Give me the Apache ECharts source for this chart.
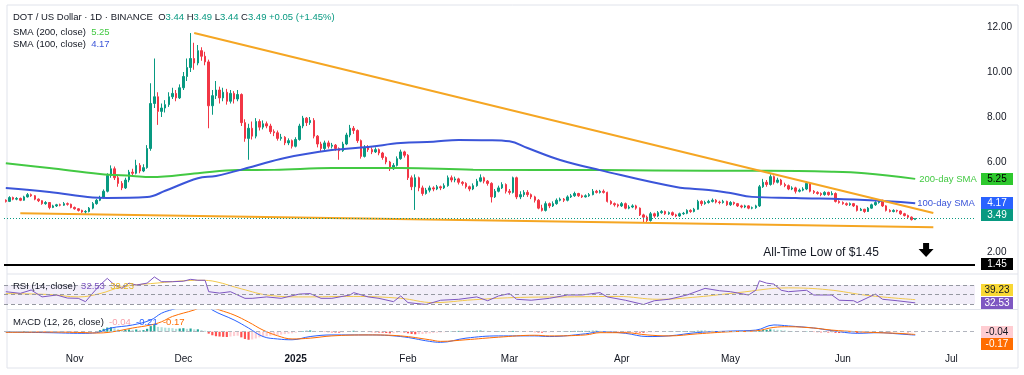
<!DOCTYPE html>
<html>
<head>
<meta charset="utf-8">
<title>DOT / US Dollar</title>
<script src="https://cdn.jsdelivr.net/npm/echarts@6/dist/echarts.min.js"></script>
<style>
  html, body { margin: 0; padding: 0; background: #fff; }
  #chart { width: 1024px; height: 375px; }
</style>
</head>
<body>
<div id="chart"></div>
<script>
// DOT / USD daily, 13 Oct 2024 .. 21 Jun 2025
const firstDay = '2024-10-13';
const dayCount = 268;          // axis runs on to 7 Jul 2025
const firstOpen = 4.30;        // close of 12 Oct, open of the first candle

const closes = [
  4.25, 4.42, 4.35, 4.38, 4.30, 4.45, 4.55,
  4.50, 4.35, 4.28, 4.15, 4.20, 3.98, 4.05, 4.10, 4.08, 4.15, 4.12, 3.98,
  3.92, 3.85, 3.78, 3.80, 3.95, 4.15, 4.30, 4.42, 4.70, 5.40,
  5.70, 5.30, 5.05, 4.85, 5.20, 5.55, 5.50, 5.85, 5.60, 5.75,
  6.60, 8.60, 8.90, 8.25, 8.40, 8.55, 8.90, 9.05, 8.85, 9.30,
  9.80, 10.20, 10.60, 10.40, 10.95, 10.70, 10.45, 8.50, 8.95, 9.20,
  8.85, 9.10, 8.70, 9.05, 8.80, 9.00, 7.75, 7.05, 7.50, 7.15,
  7.80, 7.55, 7.70, 7.60, 7.35, 7.30, 7.05, 7.10, 6.85, 6.95, 6.70,
  7.00, 7.60, 7.95, 7.75, 7.85, 7.15, 6.80, 6.60, 6.85, 6.70,
  6.75, 6.60, 6.50, 6.80, 7.20, 7.50, 7.40, 6.95, 6.25, 6.65,
  6.55, 6.45, 6.55, 6.40, 6.20, 6.00, 5.70, 5.85, 6.15, 6.45, 6.30,
  5.30, 4.90, 5.30, 4.85, 4.60, 4.75, 4.85, 4.80, 4.90, 4.85,
  4.95, 5.30, 5.20, 5.25, 5.10, 5.05, 4.90, 4.80, 4.95, 5.15,
  5.30, 5.15, 5.05, 4.45, 4.70, 4.85, 5.00, 4.70,
  4.65, 5.30, 4.45, 4.55, 4.65, 4.55, 4.45, 4.30, 3.95, 3.85,
  4.15, 4.05, 4.15, 4.30, 4.35, 4.30, 4.45, 4.50, 4.60, 4.50,
  4.45, 4.50, 4.55, 4.70, 4.65, 4.70, 4.65, 4.25, 4.15, 4.10, 4.05,
  4.15, 3.95, 4.00, 4.05, 3.95, 3.65, 3.55, 3.40, 3.70, 3.60,
  3.75, 3.80, 3.70, 3.75, 3.65, 3.60, 3.70, 3.72, 3.85, 3.80,
  3.90, 4.25, 4.15, 4.20, 4.25, 4.30, 4.22, 4.20, 4.25, 4.10,
  4.20, 4.15, 4.05, 4.00, 4.05, 3.95, 3.97, 4.05, 4.90, 5.10,
  5.00, 5.35, 5.10, 5.20, 5.00, 4.95, 4.80, 4.85, 4.70, 4.75,
  4.80, 5.05, 4.70, 4.65, 4.60, 4.55, 4.65, 4.55, 4.60, 4.25, 4.20,
  4.15, 4.10, 4.15, 4.05, 3.85, 3.90, 3.80, 3.95, 4.10, 4.20,
  4.30, 4.05, 3.85, 3.80, 3.85, 3.82, 3.70, 3.62, 3.55, 3.44, 3.49
];
const highs = [
  4.34, 4.48, 4.46, 4.44, 4.42, 4.50, 4.62,
  4.60, 4.53, 4.38, 4.30, 4.26, 4.22, 4.10, 4.14, 4.15, 4.22, 4.20, 4.15,
  4.02, 3.95, 3.88, 3.86, 4.00, 4.22, 4.36, 4.50, 4.78, 5.50,
  5.85, 5.80, 5.40, 5.15, 5.30, 5.65, 5.70, 6.10, 5.95, 5.90,
  6.75, 9.50, 10.60, 9.10, 8.60, 8.75, 9.10, 9.30, 9.20, 9.45,
  10.00, 10.60, 11.73, 11.30, 11.20, 11.10, 10.90, 10.55, 9.20, 9.60,
  9.35, 9.30, 9.25, 9.20, 9.15, 9.20, 9.05, 7.90, 7.70, 7.80,
  7.95, 7.90, 7.85, 7.80, 7.70, 7.45, 7.40, 7.25, 7.15, 7.05, 7.00,
  7.10, 7.70, 8.05, 8.00, 8.00, 7.95, 7.20, 6.90, 6.95, 6.95,
  6.85, 6.80, 6.65, 6.90, 7.30, 7.65, 7.60, 7.45, 7.00, 6.75,
  6.75, 6.65, 6.65, 6.60, 6.45, 6.25, 6.05, 5.95, 6.25, 6.55, 6.50,
  6.35, 5.40, 5.45, 5.35, 4.95, 4.85, 4.95, 4.92, 4.98, 4.95,
  5.05, 5.40, 5.40, 5.35, 5.30, 5.15, 5.10, 4.95, 5.05, 5.25,
  5.45, 5.35, 5.20, 5.10, 4.80, 4.95, 5.10, 5.05,
  4.80, 5.35, 5.35, 4.70, 4.75, 4.75, 4.60, 4.50, 4.35, 4.10,
  4.25, 4.20, 4.25, 4.38, 4.42, 4.40, 4.52, 4.58, 4.68, 4.63,
  4.55, 4.56, 4.62, 4.80, 4.76, 4.76, 4.78, 4.68, 4.30, 4.20, 4.15,
  4.22, 4.20, 4.08, 4.12, 4.10, 3.98, 3.70, 3.62, 3.78, 3.75,
  3.82, 3.86, 3.84, 3.80, 3.80, 3.70, 3.75, 3.78, 3.90, 3.90,
  3.96, 4.32, 4.30, 4.28, 4.32, 4.38, 4.35, 4.28, 4.32, 4.28,
  4.26, 4.24, 4.18, 4.10, 4.10, 4.08, 4.02, 4.10, 4.98, 5.25,
  5.20, 5.45, 5.40, 5.30, 5.25, 5.08, 5.00, 4.92, 4.90, 4.82,
  4.88, 5.15, 5.10, 4.75, 4.70, 4.65, 4.70, 4.68, 4.70, 4.65, 4.30,
  4.25, 4.20, 4.20, 4.18, 4.08, 3.96, 3.92, 4.00, 4.15, 4.26,
  4.35, 4.32, 4.08, 3.90, 3.90, 3.88, 3.85, 3.74, 3.66, 3.58, 3.49
];
const lows = [
  4.20, 4.22, 4.30, 4.30, 4.26, 4.28, 4.42,
  4.45, 4.30, 4.22, 4.10, 4.10, 3.90, 3.95, 4.00, 4.03, 4.05, 4.06, 3.94,
  3.88, 3.80, 3.74, 3.70, 3.76, 3.90, 4.10, 4.26, 4.38, 4.65,
  5.30, 5.20, 4.90, 4.75, 4.80, 5.10, 5.40, 5.45, 5.50, 5.55,
  5.70, 6.50, 8.40, 7.65, 8.00, 8.20, 8.45, 8.80, 8.70, 8.80,
  9.20, 9.60, 10.00, 10.10, 10.30, 10.50, 10.30, 7.50, 8.10, 8.80,
  8.60, 8.70, 8.55, 8.60, 8.60, 8.70, 7.60, 6.90, 6.10, 7.00,
  7.05, 7.40, 7.45, 7.50, 7.25, 7.15, 6.95, 6.95, 6.75, 6.75, 6.60,
  6.65, 6.95, 7.50, 7.60, 7.65, 7.05, 6.65, 6.45, 6.50, 6.60,
  6.60, 6.50, 6.10, 6.45, 6.75, 7.10, 7.25, 6.85, 6.15, 6.20,
  6.45, 6.35, 6.40, 6.30, 6.10, 5.90, 5.60, 5.65, 5.80, 6.10, 6.20,
  5.20, 4.75, 3.87, 4.70, 4.50, 4.55, 4.65, 4.70, 4.75, 4.75,
  4.80, 4.90, 5.10, 5.10, 5.00, 4.95, 4.82, 4.70, 4.75, 4.90,
  5.10, 5.05, 4.95, 4.20, 4.40, 4.65, 4.80, 4.60,
  4.55, 4.60, 4.35, 4.35, 4.45, 4.45, 4.35, 4.20, 3.90, 3.80,
  3.80, 3.95, 4.00, 4.10, 4.25, 4.22, 4.25, 4.40, 4.45, 4.45,
  4.40, 4.42, 4.45, 4.52, 4.60, 4.60, 4.60, 4.20, 4.10, 4.02, 3.98,
  4.00, 3.90, 3.90, 3.95, 3.88, 3.60, 3.30, 3.32, 3.35, 3.52,
  3.55, 3.70, 3.65, 3.65, 3.60, 3.55, 3.56, 3.65, 3.68, 3.74,
  3.76, 3.88, 4.05, 4.10, 4.15, 4.20, 4.16, 4.12, 4.15, 4.05,
  4.05, 4.08, 4.00, 3.94, 3.95, 3.90, 3.90, 3.92, 4.00, 4.85,
  4.90, 4.95, 5.00, 5.05, 4.95, 4.88, 4.75, 4.75, 4.60, 4.65,
  4.70, 4.75, 4.65, 4.58, 4.55, 4.48, 4.50, 4.50, 4.52, 4.20, 4.15,
  4.10, 4.05, 4.05, 4.00, 3.80, 3.82, 3.74, 3.78, 3.92, 4.05,
  4.15, 4.00, 3.80, 3.76, 3.76, 3.76, 3.65, 3.58, 3.50, 3.40, 3.44
];

const sma200 = [
  ['2024-10-13', 5.94], ['2024-10-25', 5.73], ['2024-11-08', 5.47], ['2024-11-17', 5.38],
  ['2024-11-22', 5.33], ['2024-12-05', 5.50], ['2024-12-16', 5.64], ['2024-12-26', 5.65],
  ['2025-01-11', 5.73], ['2025-01-30', 5.73], ['2025-02-19', 5.66], ['2025-03-26', 5.64],
  ['2025-04-25', 5.61], ['2025-05-11', 5.61], ['2025-05-29', 5.57], ['2025-06-07', 5.50],
  ['2025-06-21', 5.25]
];
const sma100 = [
  ['2024-10-13', 4.84], ['2024-10-25', 4.67], ['2024-11-06', 4.42], ['2024-11-10', 4.40],
  ['2024-11-21', 4.44], ['2024-11-26', 4.72], ['2024-12-05', 5.28], ['2024-12-10', 5.38],
  ['2024-12-20', 5.79], ['2024-12-29', 6.18], ['2025-01-11', 6.53], ['2025-01-21', 6.67],
  ['2025-01-30', 6.84], ['2025-02-08', 6.90], ['2025-02-15', 6.98], ['2025-02-23', 6.97],
  ['2025-03-01', 6.92], ['2025-03-06', 6.62], ['2025-03-15', 6.09], ['2025-03-26', 5.64],
  ['2025-04-16', 4.89], ['2025-04-25', 4.76], ['2025-05-01', 4.62], ['2025-05-07', 4.45],
  ['2025-05-19', 4.40], ['2025-06-07', 4.31], ['2025-06-21', 4.17]
];
const upperTrend = [['2024-12-04', 11.73], ['2025-06-26', 3.73]];
const lowerTrend = [['2024-10-17', 3.72], ['2025-06-26', 3.10]];
const allTimeLow = 1.45;

const rsi = [
  ['2024-10-13', 56], ['2024-10-17', 52.5], ['2024-10-20', 59.5], ['2024-10-23', 45], ['2024-10-27', 49],
  ['2024-10-30', 42.6], ['2024-11-02', 42], ['2024-11-04', 35], ['2024-11-06', 53], ['2024-11-08', 70],
  ['2024-11-10', 84], ['2024-11-12', 70], ['2024-11-14', 63], ['2024-11-16', 74], ['2024-11-18', 70],
  ['2024-11-21', 74], ['2024-11-23', 87], ['2024-11-25', 77], ['2024-11-28', 77], ['2024-12-01', 78],
  ['2024-12-03', 82], ['2024-12-05', 80], ['2024-12-07', 80], ['2024-12-08', 56], ['2024-12-11', 53],
  ['2024-12-14', 56], ['2024-12-18', 42], ['2024-12-20', 42], ['2024-12-24', 45], ['2024-12-28', 42],
  ['2025-01-02', 51], ['2025-01-05', 52], ['2025-01-08', 42], ['2025-01-11', 42], ['2025-01-16', 49],
  ['2025-01-17', 54], ['2025-01-21', 45], ['2025-01-24', 42], ['2025-01-28', 35], ['2025-01-30', 47],
  ['2025-02-01', 33], ['2025-02-06', 29], ['2025-02-10', 38], ['2025-02-15', 40], ['2025-02-20', 45],
  ['2025-02-23', 37], ['2025-02-26', 47], ['2025-03-01', 52], ['2025-03-03', 40], ['2025-03-07', 38],
  ['2025-03-12', 42], ['2025-03-17', 49], ['2025-03-21', 49], ['2025-03-26', 54], ['2025-03-28', 45],
  ['2025-04-02', 38], ['2025-04-07', 29], ['2025-04-10', 37], ['2025-04-14', 40], ['2025-04-19', 49],
  ['2025-04-24', 63], ['2025-04-28', 58], ['2025-05-01', 56], ['2025-05-06', 49], ['2025-05-08', 59],
  ['2025-05-09', 79], ['2025-05-11', 74], ['2025-05-13', 72], ['2025-05-15', 59], ['2025-05-17', 56],
  ['2025-05-22', 59], ['2025-05-24', 49], ['2025-05-29', 49], ['2025-05-31', 38], ['2025-06-04', 37],
  ['2025-06-05', 33], ['2025-06-10', 51], ['2025-06-12', 40], ['2025-06-16', 37], ['2025-06-21', 32.53]
];
const rsiMa = [
  ['2024-10-13', 52], ['2024-10-25', 50], ['2024-11-02', 45], ['2024-11-08', 52], ['2024-11-14', 66],
  ['2024-11-22', 73], ['2024-12-06', 80], ['2024-12-10', 77], ['2024-12-17', 62], ['2024-12-25', 48],
  ['2025-01-03', 45], ['2025-01-17', 46], ['2025-01-30', 42], ['2025-02-08', 33], ['2025-02-19', 39],
  ['2025-03-04', 44], ['2025-03-17', 45], ['2025-03-31', 46], ['2025-04-11', 40], ['2025-04-22', 45],
  ['2025-05-03', 54], ['2025-05-17', 64], ['2025-05-28', 60], ['2025-06-08', 48], ['2025-06-21', 39.23]
];

const macdLine = [
  ['2024-10-13', -0.02], ['2024-10-25', -0.06], ['2024-11-03', -0.10], ['2024-11-07', -0.06],
  ['2024-11-11', 0.23], ['2024-11-17', 0.42], ['2024-11-22', 0.73], ['2024-11-25', 1.15],
  ['2024-11-28', 1.38], ['2024-12-03', 1.70], ['2024-12-06', 1.80], ['2024-12-08', 1.65],
  ['2024-12-09', 1.35], ['2024-12-15', 0.73], ['2024-12-19', 0.23], ['2024-12-23', -0.30],
  ['2024-12-27', -0.45], ['2024-12-31', -0.50], ['2025-01-05', -0.30], ['2025-01-11', -0.20],
  ['2025-01-21', -0.20], ['2025-01-30', -0.30], ['2025-02-07', -0.60], ['2025-02-10', -0.66],
  ['2025-02-17', -0.40], ['2025-02-26', -0.26], ['2025-03-08', -0.26], ['2025-03-12', -0.30],
  ['2025-03-22', -0.13], ['2025-03-26', 0.00], ['2025-04-02', -0.10], ['2025-04-08', -0.30],
  ['2025-04-14', -0.26], ['2025-04-22', -0.05], ['2025-05-01', 0.04], ['2025-05-08', 0.10],
  ['2025-05-13', 0.42], ['2025-05-17', 0.36], ['2025-05-24', 0.23], ['2025-05-29', 0.07],
  ['2025-06-05', -0.10], ['2025-06-11', -0.06], ['2025-06-16', -0.13], ['2025-06-21', -0.21]
];
const signalLine = [
  ['2024-10-13', -0.04], ['2024-10-25', -0.02], ['2024-11-03', -0.05], ['2024-11-07', -0.08],
  ['2024-11-11', -0.02], ['2024-11-17', 0.23], ['2024-11-22', 0.42], ['2024-11-25', 0.62],
  ['2024-11-28', 0.95], ['2024-12-04', 1.35], ['2024-12-07', 1.60], ['2024-12-09', 1.50],
  ['2024-12-11', 1.35], ['2024-12-15', 1.04], ['2024-12-19', 0.60], ['2024-12-23', 0.10],
  ['2024-12-27', -0.25], ['2024-12-31', -0.45], ['2025-01-05', -0.40], ['2025-01-11', -0.26],
  ['2025-01-21', -0.20], ['2025-01-30', -0.26], ['2025-02-07', -0.50], ['2025-02-10', -0.60],
  ['2025-02-17', -0.50], ['2025-02-26', -0.34], ['2025-03-08', -0.22], ['2025-03-12', -0.26],
  ['2025-03-22', -0.20], ['2025-03-26', -0.06], ['2025-04-02', -0.06], ['2025-04-08', -0.20],
  ['2025-04-14', -0.26], ['2025-04-22', -0.13], ['2025-05-01', 0.00], ['2025-05-08', 0.05],
  ['2025-05-13', 0.27], ['2025-05-17', 0.31], ['2025-05-24', 0.23], ['2025-05-29', 0.10],
  ['2025-06-05', 0.00], ['2025-06-11', -0.06], ['2025-06-16', -0.10], ['2025-06-21', -0.17]
];
// daily histogram, same days as the candles
const macdHist = [
  0.02, 0.02, 0.03, 0.02, 0.02, 0.03, 0.03, 0.02,
  0.00, -0.02, -0.03, -0.04, -0.05, -0.04, -0.04, -0.03, -0.02, -0.03, -0.04,
  -0.05, -0.05, -0.06, -0.05, -0.03, 0.00, 0.04,
  0.10, 0.18, 0.26, 0.28, 0.22, 0.15, 0.10, 0.12, 0.14,
  0.12, 0.14, 0.10, 0.10, 0.18,
  0.35, 0.42, 0.30,
  0.28, 0.25, 0.24, 0.22, 0.18, 0.20, 0.22, 0.18,
  0.20, 0.15, 0.15, 0.10, 0.06, -0.12, -0.22,
  -0.28, -0.30, -0.32, -0.33, -0.30,
  -0.27, -0.25,
  -0.35, -0.45, -0.50, -0.48, -0.42,
  -0.35, -0.30, -0.28, -0.25, -0.22, -0.20, -0.18, -0.15, -0.12, -0.10,
  -0.06, -0.02, 0.03, 0.06, 0.08, 0.05, 0.02, 0.00, -0.02, -0.03,
  -0.04, -0.05, -0.06, -0.04, 0.00, 0.04, 0.06, 0.05, 0.02, 0.00,
  -0.02, -0.03, -0.04, -0.05, -0.06, -0.08, -0.10, -0.09, -0.06, -0.04, -0.05,
  -0.10, -0.14, -0.16, -0.15, -0.14, -0.12, -0.10, -0.08, -0.06, -0.05,
  -0.03, 0.00, 0.02, 0.04, 0.05, 0.05, 0.04, 0.04, 0.05, 0.06,
  0.07, 0.06, 0.05, 0.02, 0.02, 0.03, 0.04, 0.03,
  0.03, 0.05, 0.02, 0.01, 0.00, -0.01, -0.02, -0.03, -0.05, -0.06,
  -0.05, -0.04, -0.03, -0.02, 0.00, 0.02, 0.03, 0.04, 0.05, 0.05,
  0.05, 0.05, 0.05, 0.06, 0.06, 0.05, 0.04, 0.00, -0.02, -0.03, -0.04,
  -0.04, -0.05, -0.05, -0.04, -0.05, -0.06, -0.07, -0.06, -0.04, -0.03,
  -0.02, 0.00, 0.01, 0.02, 0.02, 0.02, 0.03, 0.03, 0.04, 0.04,
  0.04, 0.06, 0.06, 0.06, 0.05, 0.05, 0.04, 0.04, 0.03, 0.02,
  0.02, 0.01, 0.00, -0.01, -0.02, -0.02, -0.02, 0.00, 0.06, 0.10,
  0.12, 0.15, 0.14, 0.12, 0.10, 0.08, 0.05, 0.04, 0.02, 0.01,
  0.00, 0.02, 0.00, -0.02, -0.03, -0.04, -0.04, -0.05, -0.05, -0.07, -0.08,
  -0.08, -0.08, -0.07, -0.07, -0.08, -0.08, -0.07, -0.05, -0.03, -0.01,
  0.00, 0.01, -0.02, -0.03, -0.03, -0.03, -0.03, -0.03, -0.04, -0.04, -0.04
];

const monthTicks = {
  '2024-11-01': 'Nov', '2024-12-01': 'Dec', '2025-01-01': '2025', '2025-02-01': 'Feb',
  '2025-03-01': 'Mar', '2025-04-01': 'Apr', '2025-05-01': 'May', '2025-06-01': 'Jun', '2025-07-01': 'Jul'
};
const priceTicks = [2, 6, 8, 10, 12];

// ---------------------------------------------------------------
const FONT = '"Liberation Sans", Arial, sans-serif';
const UP = '#089981', DOWN = '#f23645';
const GREEN = '#43c943', BLUE = '#3b55d9', ORANGE = '#f5a623';

const days = [];
const t0 = Date.parse(firstDay + 'T00:00:00Z');
for (let k = 0; k < dayCount; k++) days.push(new Date(t0 + k * 864e5).toISOString().slice(0, 10));

// crypto trades round the clock: each daily open is the previous close
const opens = closes.map((c, k) => (k ? closes[k - 1] : firstOpen));
const candles = closes.map((c, k) => [opens[k], c, lows[k], highs[k]]);

const histBars = macdHist.map((v, k) => {
  const prev = k ? macdHist[k - 1] : 0;
  const color = v >= 0 ? (v >= prev ? '#26a69a' : '#b2dfdb') : (v < prev ? '#ff5252' : '#ffcdd2');
  return { value: v, itemStyle: { color } };
});

const last = candles.length - 1;
const lastClose = closes[last];
const change = lastClose - closes[last - 1];
const fmt = v => v.toFixed(2);
const lastOf = arr => arr[arr.length - 1][1];

const chart = echarts.init(document.getElementById('chart'), null, { renderer: 'canvas' });

const xBase = {
  type: 'category', data: days, boundaryGap: true,
  axisLine: { show: false }, axisTick: { show: false }, splitLine: { show: false }
};
const gridBase = { left: 4, right: 49, outerBoundsMode: 'none', containLabel: false };
const dashed = { color: '#9598a1', type: [4, 3], width: 1 };

chart.setOption({
  animation: false,
  backgroundColor: '#ffffff',
  grid: [
    { ...gridBase, top: 4.5, height: 270 },
    { ...gridBase, top: 274.1, height: 34.7 },
    { ...gridBase, top: 310, height: 37 }
  ],
  xAxis: [
    { ...xBase, gridIndex: 0, axisLabel: { show: false } },
    { ...xBase, gridIndex: 1, axisLabel: { show: false } },
    {
      ...xBase, gridIndex: 2,
      axisLabel: {
        show: true, margin: 7, fontSize: 10, fontFamily: FONT, color: '#131722',
        interval: (i, v) => v in monthTicks,
        formatter: v => (v === '2025-01-01' ? '{y|2025}' : (monthTicks[v] || '')),
        rich: { y: { fontWeight: 'bold', fontSize: 10, fontFamily: FONT, color: '#131722' } }
      }
    }
  ],
  yAxis: [
    {
      type: 'value', gridIndex: 0, position: 'right', min: 1, max: 13, interval: 1,
      axisLine: { show: false }, axisTick: { show: false }, splitLine: { show: false },
      axisLabel: {
        margin: 12, fontSize: 10, fontFamily: FONT, color: '#131722',
        formatter: v => (priceTicks.includes(v) ? v.toFixed(2) : '')
      }
    },
    { type: 'value', gridIndex: 1, min: 20, max: 93, show: false, splitLine: { show: false } },
    { type: 'value', gridIndex: 2, min: -0.95, max: 1.35, show: false, splitLine: { show: false } }
  ],
  series: [
    {
      type: 'candlestick', xAxisIndex: 0, yAxisIndex: 0, data: candles, barWidth: '55%',
      itemStyle: { color: UP, color0: DOWN, borderColor: UP, borderColor0: DOWN, borderWidth: 1 },
      markLine: {
        silent: true, symbol: 'none', label: { show: false },
        data: [
          { yAxis: lastClose, lineStyle: { color: UP, type: [1, 2], width: 1 } },
          { yAxis: allTimeLow, lineStyle: { color: '#000', type: 'solid', width: 2 } }
        ]
      }
    },
    {
      type: 'line', name: 'SMA 200', xAxisIndex: 0, yAxisIndex: 0, data: sma200, smooth: 0.4,
      showSymbol: false, lineStyle: { color: GREEN, width: 2 }, z: 3,
      endLabel: { show: true, formatter: '200-day SMA', color: GREEN, fontSize: 9.5, fontFamily: FONT, distance: 4 }
    },
    {
      type: 'line', name: 'SMA 100', xAxisIndex: 0, yAxisIndex: 0, data: sma100, smooth: 0.4,
      showSymbol: false, lineStyle: { color: BLUE, width: 2 }, z: 3,
      endLabel: { show: true, formatter: '100-day SMA', color: BLUE, fontSize: 9.5, fontFamily: FONT, distance: 2 }
    },
    {
      type: 'line', xAxisIndex: 0, yAxisIndex: 0, data: upperTrend, showSymbol: false,
      lineStyle: { color: ORANGE, width: 2 }, z: 4
    },
    {
      type: 'line', xAxisIndex: 0, yAxisIndex: 0, data: lowerTrend, showSymbol: false,
      lineStyle: { color: ORANGE, width: 2 }, z: 4
    },
    {
      type: 'line', name: 'RSI', xAxisIndex: 1, yAxisIndex: 1, data: rsi, showSymbol: false,
      lineStyle: { color: '#7e57c2', width: 1 }, z: 4,
      markArea: {
        silent: true, itemStyle: { color: 'rgba(126,87,194,0.10)' },
        data: [[{ yAxis: 30 }, { yAxis: 70 }]]
      },
      markLine: {
        silent: true, symbol: 'none', label: { show: false }, lineStyle: dashed,
        data: [{ yAxis: 70 }, { yAxis: 50 }, { yAxis: 30 }]
      }
    },
    {
      type: 'line', name: 'RSI MA', xAxisIndex: 1, yAxisIndex: 1, data: rsiMa, smooth: 0.4,
      showSymbol: false, lineStyle: { color: '#f2c94c', width: 1 }, z: 3
    },
    {
      type: 'bar', name: 'Histogram', xAxisIndex: 2, yAxisIndex: 2, data: histBars, barWidth: '60%',
      markLine: {
        silent: true, symbol: 'none', label: { show: false },
        lineStyle: { color: '#b2b5be', type: [4, 3], width: 1 }, data: [{ yAxis: 0 }]
      }
    },
    {
      type: 'line', name: 'MACD', xAxisIndex: 2, yAxisIndex: 2, data: macdLine, smooth: 0.4,
      showSymbol: false, lineStyle: { color: '#2962ff', width: 1 }, z: 4
    },
    {
      type: 'line', name: 'Signal', xAxisIndex: 2, yAxisIndex: 2, data: signalLine, smooth: 0.4,
      showSymbol: false, lineStyle: { color: '#ff6d00', width: 1 }, z: 4
    }
  ]
});

// ---- price tags on the right scale, header texts, notes ----
function tag(axis, value, text, bg, fg, shift) {
  const y = chart.convertToPixel({ yAxisIndex: axis }, value) + (shift || 0);
  return {
    type: 'group', x: 981, y: Math.round(y) - 6, z: 100,
    children: [
      { type: 'rect', shape: { x: 0, y: 0, width: 32, height: 12 }, style: { fill: bg } },
      {
        type: 'text', x: 16, y: 6.5,
        style: { text, fill: fg, font: '10px ' + FONT, align: 'center', verticalAlign: 'middle',
                 textAlign: 'center', textVerticalAlign: 'middle' }
      }
    ]
  };
}
function richLine(x, y, text, rich) {
  return {
    type: 'text', x, y, z: 100,
    style: { text, rich, font: '9.5px ' + FONT, fill: '#131722', verticalAlign: 'middle', textVerticalAlign: 'middle' }
  };
}
const rs = (color, extra) => Object.assign({ fill: color, color, fontSize: 9.5, fontFamily: FONT }, extra || {});
function at(date, value, grid) {
  return chart.convertToPixel({ xAxisIndex: grid || 0, yAxisIndex: grid || 0 }, [date, value]);
}

const notePos = at('2025-05-26', 1.97);
const arrowPos = at('2025-06-24', 2.09);

chart.setOption({
  graphic: [
    { type: 'rect', shape: { x: 7, y: 5, width: 1011, height: 363 }, style: { fill: 'none', stroke: '#e0e3eb', lineWidth: 1 }, silent: true },
    { type: 'line', shape: { x1: 7, y1: 274, x2: 1018, y2: 274 }, style: { stroke: '#e0e3eb', lineWidth: 1 } },
    { type: 'line', shape: { x1: 7, y1: 309.5, x2: 1018, y2: 309.5 }, style: { stroke: '#e0e3eb', lineWidth: 1 } },

    richLine(13, 17,
      '{n|DOT / US Dollar · 1D · BINANCE}  {k|O}{v|' + fmt(opens[last]) + '} {k|H}{v|' + fmt(highs[last]) +
      '} {k|L}{v|' + fmt(lows[last]) + '} {k|C}{v|' + fmt(lastClose) + '} {v|+' + fmt(change) +
      ' (+' + (change / closes[last - 1] * 100).toFixed(2) + '%)}',
      { n: rs('#131722'), k: rs('#131722'), v: rs(UP) }),
    richLine(13, 32, '{n|SMA (200, close)}  {g|' + fmt(lastOf(sma200)) + '}', { n: rs('#131722'), g: rs(GREEN) }),
    richLine(13, 44.5, '{n|SMA (100, close)}  {b|' + fmt(lastOf(sma100)) + '}', { n: rs('#131722'), b: rs(BLUE) }),
    richLine(13, 286, '{n|RSI (14, close)}  {p|' + fmt(lastOf(rsi)) + '}  {y|' + fmt(lastOf(rsiMa)) + '}',
      { n: rs('#131722'), p: rs('#7e57c2'), y: rs('#e3b51f') }),
    richLine(13, 322, '{n|MACD (12, 26, close)}  {h|' + fmt(macdHist[last]) + '}  {m|' + fmt(lastOf(macdLine)) +
      '}  {s|' + fmt(lastOf(signalLine)) + '}',
      { n: rs('#131722'), h: rs('#f7a1ab'), m: rs('#2962ff'), s: rs('#ff6d00') }),

    {
      type: 'text', x: notePos[0], y: notePos[1], z: 100,
      style: { text: 'All-Time Low of $' + fmt(allTimeLow), font: '12px ' + FONT, fill: '#131722',
               align: 'center', verticalAlign: 'middle', textAlign: 'center', textVerticalAlign: 'middle' }
    },
    {
      type: 'polygon', x: arrowPos[0], y: arrowPos[1], z: 100,
      shape: { points: [[-3, -7], [3, -7], [3, -1], [7.5, -1], [0, 7], [-7.5, -1], [-3, -1]] },
      style: { fill: '#000' }
    },

    tag(0, lastOf(sma200), fmt(lastOf(sma200)), '#2ec92e', '#000'),
    tag(0, lastOf(sma100), fmt(lastOf(sma100)), '#2962ff', '#fff'),
    tag(0, lastClose, fmt(lastClose), UP, '#fff', -3),
    tag(0, allTimeLow, fmt(allTimeLow), '#000', '#fff'),
    tag(1, lastOf(rsiMa), fmt(lastOf(rsiMa)), '#f9d835', '#131722', -10),
    tag(1, lastOf(rsi), fmt(lastOf(rsi)), '#7e57c2', '#fff'),
    tag(2, macdHist[last], fmt(macdHist[last]), '#ffcdd2', '#131722'),
    tag(2, lastOf(signalLine), fmt(lastOf(signalLine)), '#ff6d00', '#fff', 10)
  ]
});
</script>
</body>
</html>
